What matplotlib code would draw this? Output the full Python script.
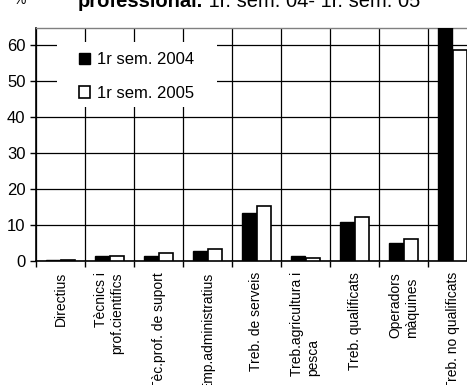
import matplotlib
matplotlib.use("Agg")
import matplotlib.pyplot as plt
from matplotlib.patches import Rectangle
import numpy as np

plt.rcParams['font.family'] = ['Liberation Sans', 'DejaVu Sans']

categories = ["Directius", "Tècnics i\nprof.cientifics", "Tèc.prof. de suport",
              "Emp.administratius", "Treb. de serveis", "Treb.agricultura i\npesca",
              "Treb. qualificats", "Operadors\nmàquines", "Treb. no qualificats"]
sem2004 = [0.2, 1.5, 1.5, 2.9, 13.4, 1.3, 10.9, 4.9, 68.0]
sem2005 = [0.2, 1.4, 2.3, 3.2, 15.3, 0.7, 12.3, 6.1, 58.7]
series_labels = ["1r sem. 2004", "1r sem. 2005"]
yticks = [0, 10, 20, 30, 40, 50, 60]

W, H = 467, 385
fig = plt.figure(figsize=(W / 100, H / 100), dpi=100)
ax = fig.add_axes([36 / W, 1 - 261 / H, 441 / W, 233 / H])

x = np.arange(len(categories))
bw = 0.3
ax.bar(x - bw / 2, sem2004, bw, color='black', edgecolor='black', linewidth=1.0,
       label=series_labels[0], zorder=3)
ax.bar(x + bw / 2, sem2005, bw, color='white', edgecolor='black', linewidth=1.2,
       label=series_labels[1], zorder=3)

ax.set_xlim(-0.5, len(categories) - 0.5)
ax.set_ylim(0, 64.7)
ax.set_yticks(yticks)
ax.set_yticklabels([str(v) for v in yticks], fontsize=12)
ax.set_xticks(x)
ax.set_xticklabels(categories, rotation=90, fontsize=10, ha='center', va='top')
aligns = ['center', 'right', 'center', 'center', 'center', 'left', 'center', 'left', 'center']
for lbl, al in zip(ax.get_xticklabels(), aligns):
    lbl.set_multialignment(al)
ax.set_xticks(np.arange(len(categories) + 1) - 0.5, minor=True)
ax.tick_params(axis='x', which='major', length=0, pad=8)
ax.tick_params(axis='x', which='minor', length=4, width=1, color='black')
ax.tick_params(axis='y', length=4.5, width=1, pad=3, color='black')

ax.grid(axis='y', which='major', color='black', linewidth=0.9, zorder=0)
ax.grid(axis='x', which='minor', color='black', linewidth=0.9, zorder=0)
ax.set_axisbelow(True)

for s in ['left', 'bottom']:
    ax.spines[s].set_color('black')
    ax.spines[s].set_linewidth(1.2)
ax.spines['top'].set_color('#808080')
ax.spines['top'].set_linewidth(1.0)
ax.spines['right'].set_visible(False)

# white background box behind the legend
ax.add_patch(Rectangle((21 / 441, (261 - 107) / 233), 160 / 441, 65 / 233,
                       transform=ax.transAxes, facecolor='white', edgecolor='none',
                       zorder=4))
leg = ax.legend(loc='upper left', bbox_to_anchor=((79 - 36) / 441, (261 - 52.5) / 233),
                borderaxespad=0, borderpad=0, frameon=False, fontsize=12,
                handlelength=0.68, handleheight=0.68, handletextpad=0.38,
                labelspacing=1.1)
leg.set_zorder(5)

fig.text(13 / W, 1 - 4 / H, "%", fontsize=10, ha='left', va='baseline')
t1 = fig.text(78 / W, 1 - 7 / H, "professional.", fontsize=14.5, fontweight='bold',
              ha='left', va='baseline')
fig.canvas.draw()
bb = t1.get_window_extent()
fig.text(bb.x1 / W, 1 - 7 / H, " 1r. sem. 04- 1r. sem. 05", fontsize=14.5,
         ha='left', va='baseline')

fig.savefig("out.png", dpi=100)
